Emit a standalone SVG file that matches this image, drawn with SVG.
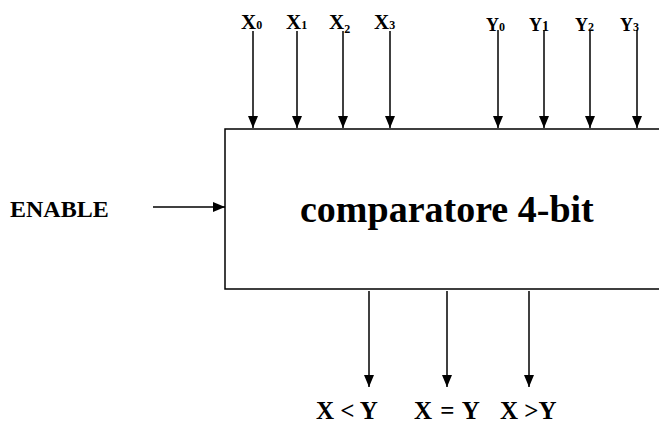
<svg xmlns="http://www.w3.org/2000/svg" width="659" height="425" viewBox="0 0 659 425">
<defs>
<marker id="arr" viewBox="0 0 12 10" markerWidth="12" markerHeight="10" refX="12" refY="5" orient="auto" markerUnits="userSpaceOnUse">
<path d="M0,0 L12,5 L0,10 z" fill="#000"/>
</marker>
</defs>
<style>
text{font-family:"Liberation Serif","Times New Roman",serif;font-weight:bold;fill:#000}
.w{stroke:#000;stroke-width:1.5;fill:none;marker-end:url(#arr)}
.xl{font-size:21px}
.yl{font-size:18px}
.sub{font-size:12px}
.out{font-size:25px}
</style>
<rect width="659" height="425" fill="#fff"/>
<g id="comparator">
<path d="M659,129 H225 V289 H659" fill="none" stroke="#000" stroke-width="1.5"/>
<text x="300" y="222" style="font-size:38px">comparatore 4-bit</text>
</g>
<g id="inputs-x">
<text class="xl" x="241" y="29">X<tspan class="sub">0</tspan></text>
<text class="xl" x="286" y="29">X<tspan class="sub">1</tspan></text>
<text class="xl" x="329" y="29">X<tspan class="sub" dy="4">2</tspan></text>
<text class="xl" x="374" y="29">X<tspan class="sub">3</tspan></text>
</g>
<g id="inputs-y">
<text class="yl" x="486" y="31">Y<tspan class="sub">0</tspan></text>
<text class="yl" x="529" y="31">Y<tspan class="sub" style="font-size:14px">1</tspan></text>
<text class="yl" x="575" y="31">Y<tspan class="sub">2</tspan></text>
<text class="yl" x="620" y="31">Y<tspan class="sub">3</tspan></text>
</g>
<g id="enable">
<text x="10" y="217" style="font-size:24px">ENABLE</text>
</g>
<g id="outputs">
<text class="out" x="316" y="419" xml:space="preserve">X &lt; Y</text>
<text class="out" x="414" y="419" xml:space="preserve" word-spacing="2">X = Y</text>
<text class="out" x="500" y="419" xml:space="preserve">X &gt;Y</text>
</g>
<g id="connectors">
<line class="w" x1="253" y1="31" x2="253" y2="128"/>
<line class="w" x1="297" y1="31" x2="297" y2="128"/>
<line class="w" x1="343" y1="31" x2="343" y2="128"/>
<line class="w" x1="390" y1="31" x2="390" y2="128"/>
<line class="w" x1="498" y1="30" x2="498" y2="128"/>
<line class="w" x1="544" y1="30" x2="544" y2="128"/>
<line class="w" x1="590" y1="30" x2="590" y2="128"/>
<line class="w" x1="637" y1="30" x2="637" y2="128"/>
<line class="w" x1="153" y1="207" x2="225" y2="207"/>
<line class="w" x1="369" y1="291" x2="369" y2="387"/>
<line class="w" x1="447" y1="291" x2="447" y2="387"/>
<line class="w" x1="529" y1="291" x2="529" y2="387"/>
</g>
</svg>
